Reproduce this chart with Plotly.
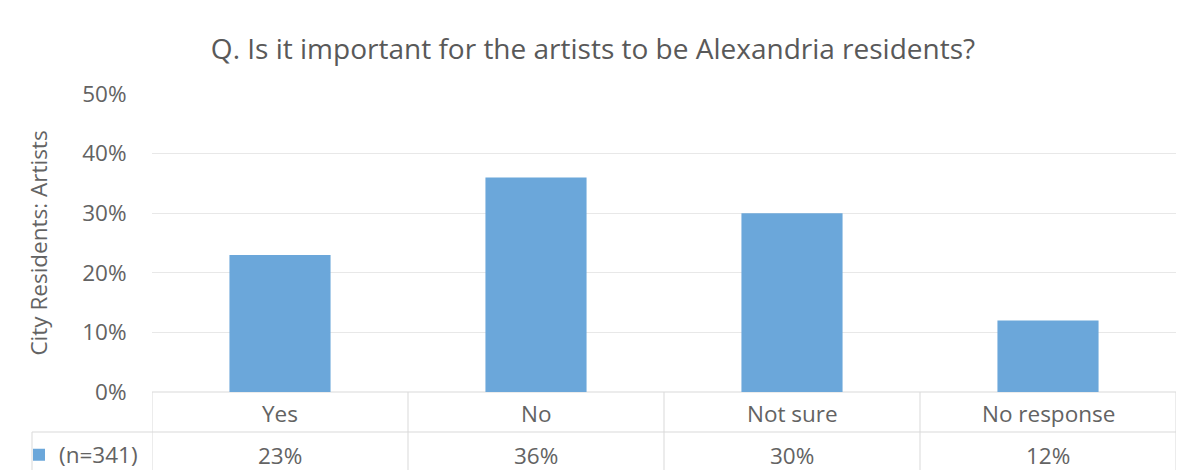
import plotly.graph_objects as go

categories = ["Yes", "No", "Not sure", "No response"]
values = [0.23, 0.36, 0.30, 0.12]
series_name = "(n=341)"
title_text = "Q. Is it important for the artists to be Alexandria residents?"
y_title = "City Residents: Artists"
y_ticks = [0, 0.1, 0.2, 0.3, 0.4, 0.5]

W, H = 1184, 470
ML, MR, MT, MB = 152, 8, 94, 78
plot_h = H - MT - MB
plot_w = W - ML - MR

def py(px):  # pixel y below plot bottom -> paper y
    return -(px - (H - MB)) / plot_h

def pxx(px):
    return (px - ML) / plot_w

title_col = "#595959"
text_col = "#636363"
line_col = "#D9D9D9"
font_family = "Open Sans, Noto Sans, sans-serif"
fs = 22.5

fig = go.Figure()
fig.add_trace(go.Bar(
    x=categories, y=values, name=series_name,
    marker=dict(color="#6BA7DA", line=dict(width=0)),
    showlegend=True,
))

row1_y = py(413)
row2_y = py(455)
div_y = py(432)
bot_y = py(480)

annotations = []
for c, v in zip(categories, values):
    annotations.append(dict(x=c, y=row1_y, xref="x", yref="paper", text=c,
                            showarrow=False, font=dict(size=fs, color=text_col, family=font_family),
                            xanchor="center", yanchor="middle"))
    annotations.append(dict(x=c, y=row2_y, xref="x", yref="paper", text=f"{round(v*100)}%",
                            showarrow=False, font=dict(size=fs, color=text_col, family=font_family),
                            xanchor="center", yanchor="middle"))

shapes = []
n = len(categories)
for i in range(n + 1):
    shapes.append(dict(type="line", xref="x", yref="paper", x0=i - 0.5, x1=i - 0.5,
                       y0=0, y1=bot_y, line=dict(color=line_col, width=1), layer="below"))
shapes.append(dict(type="line", xref="x", yref="paper", x0=-0.5, x1=n - 0.5, y0=0, y1=0,
                   line=dict(color=line_col, width=1), layer="below"))
shapes.append(dict(type="line", xref="paper", yref="paper", x0=pxx(32), x1=1, y0=div_y, y1=div_y,
                   line=dict(color=line_col, width=1), layer="below"))
shapes.append(dict(type="line", xref="paper", yref="paper", x0=pxx(32), x1=pxx(32), y0=div_y, y1=bot_y,
                   line=dict(color=line_col, width=1), layer="below"))

fig.update_layout(
    width=W, height=H,
    margin=dict(l=ML, r=MR, t=MT, b=MB, autoexpand=False),
    paper_bgcolor="white", plot_bgcolor="white",
    font=dict(family=font_family, color=text_col, size=fs),
    title=dict(text=title_text, x=593 / W, xanchor="center", y=1 - 49 / H, yanchor="middle",
               font=dict(size=28, color=title_col, family=font_family)),
    bargap=0.605,
    showlegend=True,
    legend=dict(x=pxx(19), xanchor="left", y=row2_y, yanchor="middle",
                font=dict(size=fs, color=text_col, family=font_family),
                bgcolor="rgba(0,0,0,0)", borderwidth=0),
    annotations=annotations,
    shapes=shapes,
    xaxis=dict(showticklabels=False, showgrid=False, zeroline=False, showline=False,
               ticks="", range=[-0.5, n - 0.5], automargin=False),
    yaxis=dict(range=[0, 0.5], tickvals=y_ticks, tickformat=".0%",
               showgrid=True, gridcolor="#E8E8E8", gridwidth=1,
               zeroline=False, showline=False, automargin=False,
               ticks="outside", ticklen=20, tickcolor="rgba(0,0,0,0)",
               tickfont=dict(size=fs, color=text_col, family=font_family),
               title=dict(text=y_title, standoff=28,
                          font=dict(size=fs, color=text_col, family=font_family))),
)

fig.write_html("out.html", config={"displayModeBar": False},
               post_script="document.body.style.margin='0px';document.body.style.overflow='hidden';")
